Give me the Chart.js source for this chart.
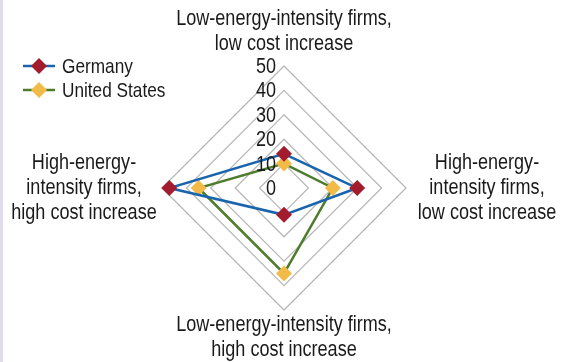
<!DOCTYPE html>
<html>
<head>
<meta charset="utf-8">
<script src="https://cdn.jsdelivr.net/npm/chart.js@4.4.1/dist/chart.umd.min.js"></script>
<style>
  html, body { margin: 0; padding: 0; background: #fff; }
  body { width: 562px; height: 362px; position: relative; overflow: hidden; }
  #edge { position: absolute; left: 0; top: 0; width: 3px; height: 362px; background: #e0dcec; }
  #wrap { position: absolute; left: 0; top: 0; width: 562px; height: 362px; }
</style>
</head>
<body>
<div id="edge"></div>
<div id="wrap"><canvas id="chart"></canvas></div>
<script>
// categories (clockwise from top)
const categories = [
    ['Low-energy-intensity firms,', 'low cost increase'],
    ['High-energy-', 'intensity firms,', 'low cost increase'],
    ['Low-energy-intensity firms,', 'high cost increase'],
    ['High-energy-', 'intensity firms,', 'high cost increase']
];

// series values
const germany = [14, 30, 11, 47];
const unitedStates = [10, 20, 35, 35];

// scale ticks
const tickValues = [0, 10, 20, 30, 40, 50];

const FONT = '"Liberation Sans", Arial, sans-serif';
const NARROW = 0.82; // condensed look

// schmale Schrift: horizontal gestauchter Text
function narrowText(ctx, text, x, y) {
    ctx.save();
    ctx.translate(x, y);
    ctx.scale(NARROW, 1);
    ctx.fillText(text, 0, 0);
    ctx.restore();
}

// draws axis labels, tick numbers and legend
const labelPlugin = {
    id: 'labelPlugin',
    afterDraw(chart) {
        const ctx = chart.ctx;
        const scale = chart.scales.r;
        ctx.save();
        ctx.fillStyle = '#1a1a1a';

        // tick numbers, a bit left of the vertical axis
        ctx.font = '22px ' + FONT;
        ctx.textAlign = 'right';
        ctx.textBaseline = 'middle';
        tickValues.forEach(v => {
            const y = scale.yCenter - scale.getDistanceFromCenterForValue(v);
            narrowText(ctx, String(v), scale.xCenter - 8, y + 1);
        });

        // point labels, centred lines
        const lineH = 25;
        ctx.textAlign = 'center';
        categories.forEach((lines, i) => {
            const n = lines.length;
            let cx, cy;
            if (i === 0) { cx = scale.xCenter; cy = 31; }
            else if (i === 1) { cx = 487; cy = scale.yCenter; }
            else if (i === 2) { cx = scale.xCenter; cy = 337; }
            else { cx = 84; cy = scale.yCenter; }
            lines.forEach((t, k) => {
                narrowText(ctx, t, cx, cy + (k - (n - 1) / 2) * lineH);
            });
        });

        // legend: line + diamond marker
        ctx.textAlign = 'left';
        ctx.font = '21px ' + FONT;
        chart.data.datasets.forEach((ds, i) => {
            const y = 66 + i * 24;
            ctx.strokeStyle = ds.borderColor;
            ctx.lineWidth = 2.5;
            ctx.beginPath();
            ctx.moveTo(23, y);
            ctx.lineTo(55, y);
            ctx.stroke();
            ctx.fillStyle = ds.pointBackgroundColor;
            ctx.beginPath();
            ctx.moveTo(39, y - 8);
            ctx.lineTo(47, y);
            ctx.lineTo(39, y + 8);
            ctx.lineTo(31, y);
            ctx.closePath();
            ctx.fill();
            ctx.fillStyle = '#1a1a1a';
            narrowText(ctx, ds.label, 62, y + 1);
        });
        ctx.restore();
    }
};

new Chart(document.getElementById('chart'), {
    type: 'radar',
    data: {
        labels: categories,
        datasets: [
            {
                label: 'Germany',
                data: germany,
                borderColor: '#1a64ad',
                borderWidth: 2.5,
                pointStyle: 'rectRot',
                pointRadius: 8,
                pointBackgroundColor: '#a31c2e',
                pointBorderWidth: 0,
                fill: false
            },
            {
                label: 'United States',
                data: unitedStates,
                borderColor: '#4e7c2c',
                borderWidth: 2.5,
                pointStyle: 'rectRot',
                pointRadius: 8,
                pointBackgroundColor: '#f2bb48',
                pointBorderWidth: 0,
                fill: false
            }
        ]
    },
    options: {
        responsive: true,
        maintainAspectRatio: false,
        animation: false,
        layout: { padding: { top: 66, bottom: 52, left: 162, right: 156 } },
        plugins: { legend: { display: false }, tooltip: { enabled: false } },
        scales: {
            r: {
                min: 0,
                max: 50,
                ticks: { stepSize: 10, display: false },
                grid: { color: '#b9b9b9', lineWidth: 1.3 },
                angleLines: { display: false },
                pointLabels: { display: false }
            }
        }
    },
    plugins: [labelPlugin]
});
</script>
</body>
</html>
